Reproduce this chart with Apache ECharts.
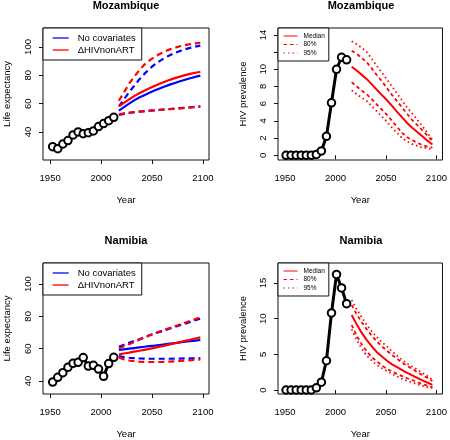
<!DOCTYPE html>
<html><head><meta charset="utf-8">
<script src="https://cdn.jsdelivr.net/npm/echarts@6/dist/echarts.min.js"></script>
<style>html,body{margin:0;padding:0;background:#fff}#c{width:450px;height:440px}</style>
</head><body><div id="c"></div>
<script>
// ---------- data ----------
const leHistYears = [1952.5,1957.5,1962.5,1967.5,1972.5,1977.5,1982.5,1987.5,1992.5,1997.5,2002.5,2007.5,2012.5];
const leProjYears = [2017.5,2022.5,2027.5,2032.5,2037.5,2042.5,2047.5,2052.5,2057.5,2062.5,2067.5,2072.5,2077.5,2082.5,2087.5,2092.5,2097.5];
const hivHistYears = [1951,1956,1961,1966,1971,1976,1981,1986,1991,1996,2001,2006,2011];
const hivProjYears = [2016,2021,2026,2031,2036,2041,2046,2051,2056,2061,2066,2071,2076,2081,2086,2091,2096];
const xTicks = [1950,2000,2050,2100];

// Mozambique life expectancy
const mozLEObs = [29.6,28.2,31.5,33.9,37.9,40.0,38.8,39.5,40.7,43.8,45.9,48.0,50.3];
const mozNoCovMed = [55.0,57.5,60.0,62.3,64.3,66.0,67.6,69.2,70.7,72.1,73.4,74.6,75.8,76.9,77.9,78.9,79.8];
const mozNoCovUp  = [58.0,63.0,68.0,72.5,77.0,81.0,84.5,87.5,90.0,92.3,94.2,95.8,97.2,98.4,99.4,100.2,101.0];
const mozNoCovLo  = [52.0,52.8,53.4,53.9,54.3,54.7,55.0,55.3,55.6,55.9,56.2,56.5,56.8,57.1,57.4,57.7,58.0];
const mozHivMed   = [58.0,60.5,63.0,65.3,67.3,69.1,70.8,72.4,74.0,75.5,76.8,78.0,79.1,80.1,81.0,81.8,82.5];
const mozHivUp    = [62.0,68.0,74.0,79.0,83.5,87.5,90.5,93.0,95.0,96.8,98.3,99.5,100.5,101.3,102.0,102.6,103.0];
const mozHivLo    = [52.5,53.2,53.7,54.0,54.3,54.6,54.9,55.2,55.5,55.8,56.1,56.4,56.7,57.0,57.3,57.6,57.9];

// Mozambique HIV prevalence
const mozPrevObs = [0,0,0,0,0,0,0.1,0.5,2.2,6.1,10.0,11.4,11.1];
const mozPrevMed = [10.3,9.85,9.35,8.85,8.25,7.6,7.0,6.4,5.75,5.05,4.4,3.75,3.2,2.7,2.2,1.7,1.25];
const mozPrev80U = [12.15,11.8,11.3,10.8,10.1,9.3,8.6,7.8,7.0,6.3,5.55,4.8,4.1,3.5,2.9,2.3,1.65];
const mozPrev80L = [8.5,8.0,7.5,7.1,6.5,5.9,5.3,4.7,4.0,3.3,2.6,2.1,1.75,1.45,1.2,1.0,0.9];
const mozPrev95U = [13.25,12.9,12.5,12.0,11.2,10.4,9.6,8.8,8.0,7.2,6.35,5.55,4.85,4.15,3.4,2.6,1.8];
const mozPrev95L = [7.55,7.1,6.7,6.3,5.7,5.1,4.5,3.9,3.2,2.6,2.0,1.6,1.3,1.1,0.9,0.8,0.7];

// Namibia life expectancy
const namLEObs = [39.4,42.3,45.2,48.5,51.0,51.6,54.5,49.3,49.7,47.4,42.9,50.8,54.7];
const namNoCovMed = [59.2,59.6,60.0,60.4,60.8,61.2,61.55,61.9,62.3,62.7,63.1,63.5,63.9,64.3,64.7,65.05,65.4];
const namNoCovUp  = [61.2,62.4,63.6,64.8,65.9,67.1,68.3,69.4,70.4,71.4,72.5,73.5,74.5,75.5,76.5,77.6,78.6];
const namNoCovLo  = [55.5,54.8,54.4,54.2,54.0,53.9,53.8,53.8,53.8,53.8,53.8,53.9,53.9,54.0,54.0,54.1,54.2];
const namHivMed   = [56.5,57.05,57.6,58.2,58.75,59.3,59.9,60.55,61.25,61.95,62.65,63.4,64.1,64.85,65.55,66.3,67.0];
const namHivUp    = [60.2,61.5,62.8,64.2,65.5,66.9,68.2,69.5,70.6,71.7,72.8,73.9,75.0,76.1,77.2,78.3,79.4];
const namHivLo    = [54.6,53.4,52.7,52.3,52.0,51.9,51.8,51.8,51.8,51.9,52.0,52.2,52.4,52.7,52.9,53.1,53.4];

// Namibia HIV prevalence
const namPrevObs = [0,0,0,0,0,0,0.3,1.1,4.1,10.8,16.2,14.3,12.1];
const namPrevMed = [10.5,9.2,8.0,7.0,6.1,5.3,4.7,4.1,3.6,3.2,2.8,2.4,2.05,1.7,1.35,1.05,0.72];
const namPrev80U = [11.9,10.6,9.5,8.5,7.6,6.8,6.1,5.5,4.9,4.4,3.8,3.4,2.95,2.5,2.1,1.7,1.25];
const namPrev80L = [9.1,7.6,6.4,5.4,4.6,4.0,3.45,2.95,2.6,2.25,1.95,1.65,1.4,1.1,0.85,0.6,0.4];
const namPrev95U = [12.6,11.3,10.2,9.1,8.2,7.4,6.7,6.1,5.4,4.8,4.2,3.7,3.3,2.85,2.4,1.95,1.45];
const namPrev95L = [8.5,7.0,5.8,4.8,4.1,3.5,3.05,2.65,2.25,1.9,1.55,1.3,1.05,0.8,0.6,0.4,0.25];

const leTicks = [40,60,80,100];
const mozPrevTicks = [0,2,4,6,8,10,12,14];
const mozPrevLabels = [0,2,4,6,8,10,14];
const namPrevTicks = [0,5,10,15];

// ---------- chart ----------
const FONT = 'Liberation Sans, Arial, sans-serif';
const BLUE = '#0000FF', RED = '#FF0000';
const pair = (xs, ys) => xs.map((x, i) => [x, ys[i]]);
const plain = v => String(v);

const grids = [
  {left: 43, top: 28, width: 166, height: 132},
  {left: 278, top: 28, width: 166, height: 132},
  {left: 43, top: 263, width: 166, height: 131},
  {left: 278, top: 263, width: 166, height: 131}
].map(g => Object.assign(g, {show: true, borderColor: '#111', borderWidth: 1, backgroundColor: 'transparent', containLabel: false}));

function xAxis(gi) {
  return {
    type: 'value', gridIndex: gi, min: 1943, max: 2106,
    name: 'Year', nameLocation: 'middle', nameGap: 35,
    nameTextStyle: {fontSize: 9.5, color: '#000', fontFamily: FONT},
    axisLine: {show: false}, splitLine: {show: false},
    axisTick: {show: true, inside: false, length: 4, lineStyle: {color: '#111'}, customValues: xTicks},
    axisLabel: {fontSize: 9.5, color: '#000', fontFamily: FONT, margin: 13, formatter: plain, customValues: xTicks}
  };
}
function yAxis(gi, name, min, max, ticks, labels, gap) {
  return {
    type: 'value', gridIndex: gi, min: min, max: max,
    name: name, nameLocation: 'middle', nameGap: gap,
    nameTextStyle: {fontSize: 9.5, color: '#000', fontFamily: FONT},
    axisLine: {show: false}, splitLine: {show: false},
    axisTick: {show: true, inside: false, length: 4, lineStyle: {color: '#111'}, customValues: ticks},
    axisLabel: {fontSize: 9.5, color: '#000', fontFamily: FONT, margin: 10, rotate: 90, formatter: plain, customValues: labels}
  };
}

function ln(name, gi, xs, ys, color, width, type) {
  return {
    name: name, type: 'line', xAxisIndex: gi, yAxisIndex: gi,
    data: pair(xs, ys), symbol: 'none', showSymbol: false, smooth: false,
    lineStyle: {color: color, width: width, type: type},
    itemStyle: {color: color}, silent: true, animation: false
  };
}
function obs(gi, xs, ys) {
  return {
    name: 'Observed', type: 'line', xAxisIndex: gi, yAxisIndex: gi,
    data: pair(xs, ys), symbol: 'emptyCircle', symbolSize: 7.5,
    lineStyle: {color: '#000', width: 3},
    itemStyle: {color: '#000', borderColor: '#000', borderWidth: 2},
    silent: true, animation: false, z: 5
  };
}

const D1 = [6, 4], D80 = [3.5, 3], D95 = [1.5, 3];

const series = [
  // Mozambique LE
  ln('No covariates', 0, leProjYears, mozNoCovMed, BLUE, 2.2, 'solid'),
  ln('nc up', 0, leProjYears, mozNoCovUp, BLUE, 2.2, D1),
  ln('nc lo', 0, leProjYears, mozNoCovLo, BLUE, 2.2, D1),
  ln('ΔHIVnonART', 0, leProjYears, mozHivMed, RED, 2.2, 'solid'),
  ln('h up', 0, leProjYears, mozHivUp, RED, 2.2, D1),
  ln('h lo', 0, leProjYears, mozHivLo, RED, 2.2, D1),
  obs(0, leHistYears, mozLEObs),
  // Mozambique HIV
  ln('Median', 1, hivProjYears, mozPrevMed, RED, 2, 'solid'),
  ln('80%', 1, hivProjYears, mozPrev80U, RED, 1.8, D80),
  ln('80%', 1, hivProjYears, mozPrev80L, RED, 1.8, D80),
  ln('95%', 1, hivProjYears, mozPrev95U, RED, 1.8, D95),
  ln('95%', 1, hivProjYears, mozPrev95L, RED, 1.8, D95),
  obs(1, hivHistYears, mozPrevObs),
  // Namibia LE
  ln('No covariates', 2, leProjYears, namNoCovMed, BLUE, 2.2, 'solid'),
  ln('nc up', 2, leProjYears, namNoCovUp, BLUE, 2.2, D1),
  ln('nc lo', 2, leProjYears, namNoCovLo, BLUE, 2.2, D1),
  ln('ΔHIVnonART', 2, leProjYears, namHivMed, RED, 2.2, 'solid'),
  ln('h up', 2, leProjYears, namHivUp, RED, 2.2, D1),
  ln('h lo', 2, leProjYears, namHivLo, RED, 2.2, D1),
  obs(2, leHistYears, namLEObs),
  // Namibia HIV
  ln('Median', 3, hivProjYears, namPrevMed, RED, 2, 'solid'),
  ln('80%', 3, hivProjYears, namPrev80U, RED, 1.8, D80),
  ln('80%', 3, hivProjYears, namPrev80L, RED, 1.8, D80),
  ln('95%', 3, hivProjYears, namPrev95U, RED, 1.8, D95),
  ln('95%', 3, hivProjYears, namPrev95L, RED, 1.8, D95),
  obs(3, hivHistYears, namPrevObs)
];

function leLegend(top) {
  return {
    left: 43, top: top, orient: 'vertical', data: ['No covariates', 'ΔHIVnonART'],
    backgroundColor: '#fff', borderColor: '#111', borderWidth: 1, borderRadius: 0,
    padding: [5, 6, 5, 9], itemWidth: 16, itemHeight: 10, itemGap: 2,
    lineStyle: {width: 1.3}, itemStyle: {opacity: 0}, selectedMode: false,
    textStyle: {fontSize: 9.5, color: '#000', fontFamily: FONT, lineHeight: 10, padding: [0, 0, 0, 4]}
  };
}
function hivLegend(top) {
  return {
    left: 278, top: top, orient: 'vertical', data: ['Median', '80%', '95%'],
    backgroundColor: '#fff', borderColor: '#111', borderWidth: 1, borderRadius: 0,
    padding: [4.5, 4, 4.5, 5], itemWidth: 14, itemHeight: 7, itemGap: 1.5,
    lineStyle: {width: 1}, itemStyle: {opacity: 0}, selectedMode: false,
    textStyle: {fontSize: 6.5, color: '#000', fontFamily: FONT, lineHeight: 7, padding: [0, 0, 0, 1]}
  };
}

const titleStyle = {fontSize: 11, fontWeight: 'bold', color: '#000', fontFamily: FONT};
const option = {
  animation: false,
  backgroundColor: '#fff',
  title: [
    {text: 'Mozambique', left: 126, top: 0, padding: 0, textAlign: 'center', textStyle: titleStyle},
    {text: 'Mozambique', left: 361, top: 0, padding: 0, textAlign: 'center', textStyle: titleStyle},
    {text: 'Namibia', left: 126, top: 235, padding: 0, textAlign: 'center', textStyle: titleStyle},
    {text: 'Namibia', left: 361, top: 235, padding: 0, textAlign: 'center', textStyle: titleStyle}
  ],
  grid: grids,
  xAxis: [xAxis(0), xAxis(1), xAxis(2), xAxis(3)],
  yAxis: [
    yAxis(0, 'Life expectancy', 20.2, 113.4, leTicks, leTicks, 31),
    yAxis(1, 'HIV prevalence', -0.55, 14.8, mozPrevTicks, mozPrevLabels, 30),
    yAxis(2, 'Life expectancy', 32, 113, leTicks, leTicks, 31),
    yAxis(3, 'HIV prevalence', -0.56, 17.8, namPrevTicks, namPrevTicks, 30)
  ],
  legend: [leLegend(28), hivLegend(28), leLegend(263), hivLegend(263)],
  series: series
};

const chart = echarts.init(document.getElementById('c'), null, {renderer: 'canvas'});
chart.setOption(option);
</script>
</body></html>
